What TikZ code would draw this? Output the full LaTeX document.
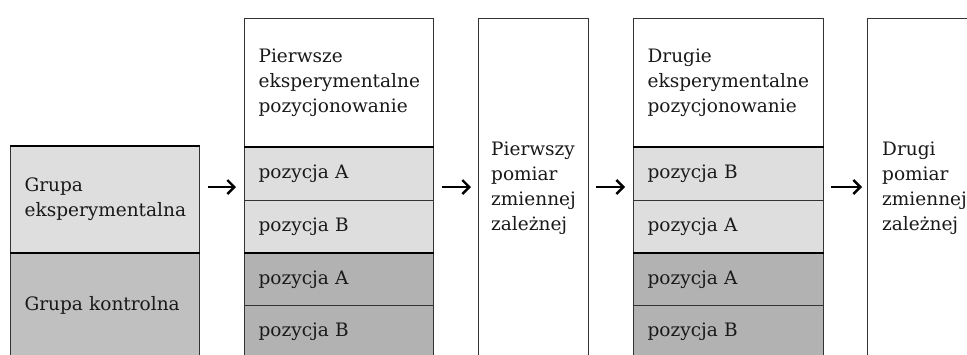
\documentclass[tikz,border=0pt]{standalone}
\usepackage{fontspec}
\setmainfont{DejaVu Serif}
\usetikzlibrary{arrows.meta}
\definecolor{lightg}{HTML}{DEDEDE}
\definecolor{darkg}{HTML}{B2B2B2}
\definecolor{ctrlg}{HTML}{C0C0C0}
\definecolor{edge}{HTML}{333333}
\tikzset{
  txt/.style={font=\fontsize{18.5pt}{25pt}\selectfont, text=black!90},
  cell/.style={draw=edge, line width=1.2pt, anchor=north west, inner xsep=14pt, inner ysep=0pt,
    align=left, txt},
  label/.style={anchor=west, inner sep=0pt, align=left, txt},
  arr/.style={line width=2.4pt, -{Straight Barb[length=7pt,width=14pt,line width=2.4pt]}},
  sep/.style={line width=2.4pt, black}
}
\begin{document}
\begin{tikzpicture}[x=1pt,y=-1pt]
\useasboundingbox (0,0) rectangle (967,354);
\clip (0,0) rectangle (967,354);
% left groups
\node[cell, fill=lightg, minimum width=189pt, minimum height=106pt, text width=161pt] (g1) at (10,146) {Grupa\\eksperymentalna};
\node[cell, fill=ctrlg, minimum width=189pt, minimum height=106pt, text width=161pt] (g2) at (10,252) {Grupa kontrolna};
% column 2
\node[cell, fill=white, minimum width=189pt, minimum height=129pt, text width=161pt] (h1) at (244,18) {Pierwsze\\eksperymentalne\\pozycjonowanie};
\node[cell, fill=lightg, minimum width=189pt, minimum height=53pt, text width=161pt] (a1) at (244,147) {pozycja A};
\node[cell, fill=lightg, minimum width=189pt, minimum height=53pt, text width=161pt] (a2) at (244,200) {pozycja B};
\node[cell, fill=darkg, minimum width=189pt, minimum height=52pt, text width=161pt] (a3) at (244,253) {pozycja A};
\node[cell, fill=darkg, minimum width=189pt, minimum height=53pt, text width=161pt] (a4) at (244,305) {pozycja B};
% column 3
\node[cell, fill=white, minimum width=110pt, minimum height=340pt] (m1) at (478,18) {};
\node[label] (t1) at ([xshift=13pt]m1.west) {Pierwszy\\pomiar\\zmiennej\\zależnej};
% column 4
\node[cell, fill=white, minimum width=190pt, minimum height=129pt, text width=162pt] (h2) at (633,18) {Drugie\\eksperymentalne\\pozycjonowanie};
\node[cell, fill=lightg, minimum width=190pt, minimum height=53pt, text width=162pt] (b1) at (633,147) {pozycja B};
\node[cell, fill=lightg, minimum width=190pt, minimum height=53pt, text width=162pt] (b2) at (633,200) {pozycja A};
\node[cell, fill=darkg, minimum width=190pt, minimum height=52pt, text width=162pt] (b3) at (633,253) {pozycja A};
\node[cell, fill=darkg, minimum width=190pt, minimum height=53pt, text width=162pt] (b4) at (633,305) {pozycja B};
% column 5
\node[cell, fill=white, minimum width=110pt, minimum height=340pt] (m2) at (867,18) {};
\node[label] (t2) at ([xshift=15pt]m2.west) {Drugi\\pomiar\\zmiennej\\zależnej};
% thick group separators
\draw[sep] (g1.north west) -- (g1.north east);
\draw[sep] (g1.south west) -- (g1.south east);
\draw[sep] (a1.north west) -- (a1.north east);
\draw[sep] (a3.north west) -- (a3.north east);
\draw[sep] (b1.north west) -- (b1.north east);
\draw[sep] (b3.north west) -- (b3.north east);
% arrows
\coordinate (ay) at (0,187);
\draw[arr] ([xshift=8pt]g1.east |- ay) -- ([xshift=-8pt]h1.west |- ay);
\draw[arr] ([xshift=8pt]h1.east |- ay) -- ([xshift=-7pt]m1.west |- ay);
\draw[arr] ([xshift=7pt]m1.east |- ay) -- ([xshift=-8pt]h2.west |- ay);
\draw[arr] ([xshift=7pt]h2.east |- ay) -- ([xshift=-5pt]m2.west |- ay);
\end{tikzpicture}
\end{document}
